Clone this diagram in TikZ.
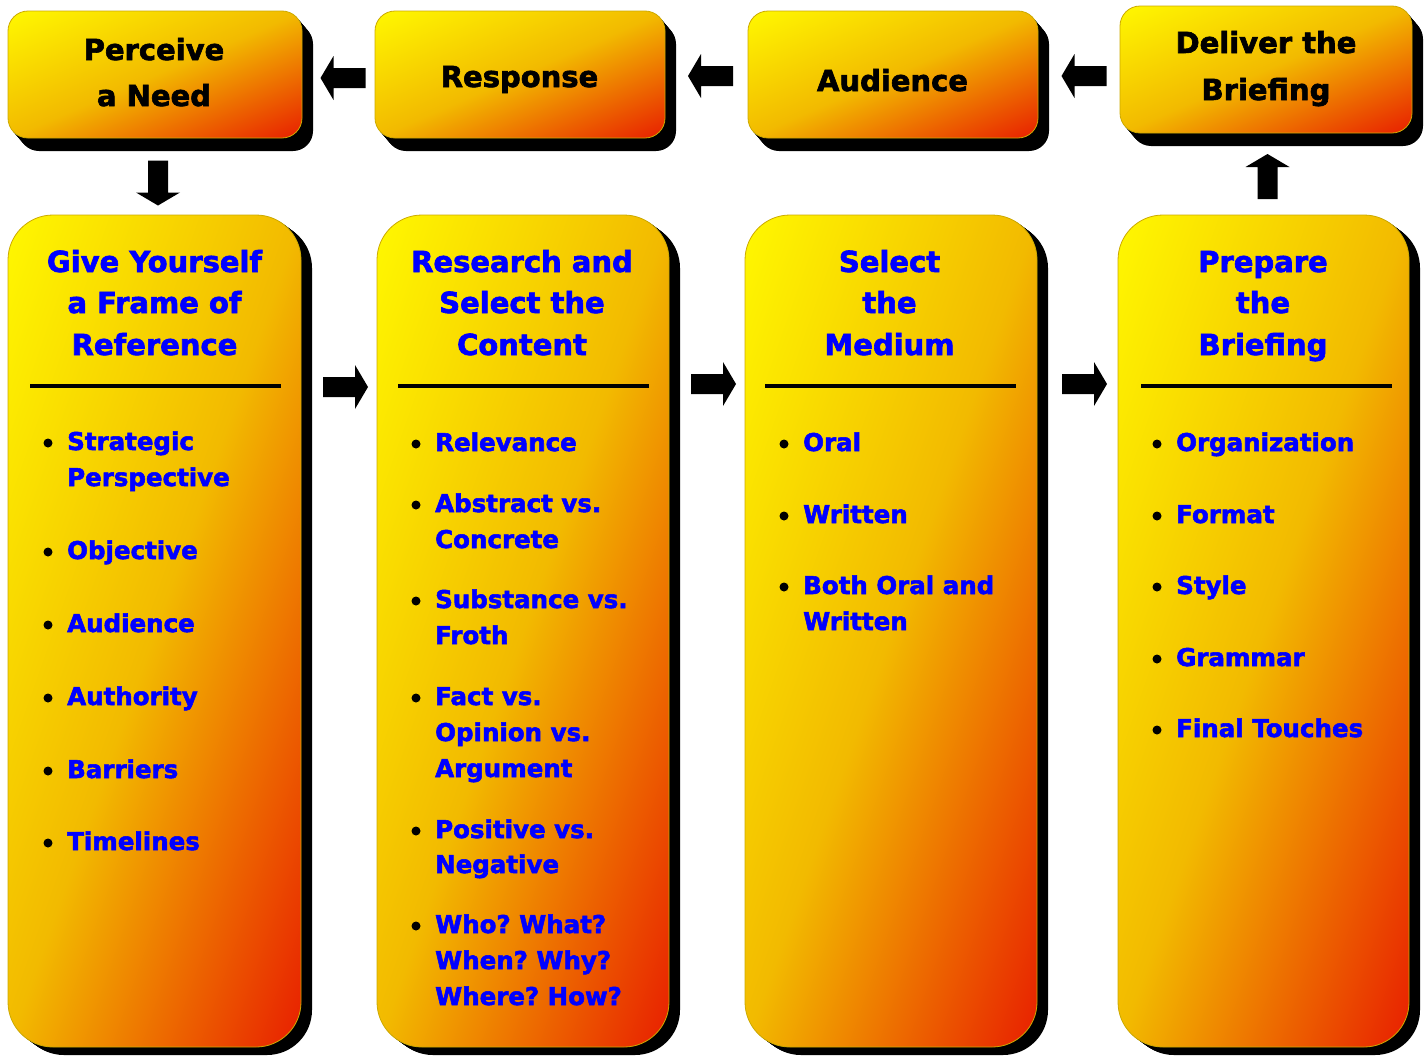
\documentclass[tikz,border=0pt]{standalone}
\usepackage{fontspec}
\newfontfamily\heavy{DejaVu Sans}[FakeBold=2.2]
\usetikzlibrary{fit}

\definecolor{sunyellow}{RGB}{255,248,0}
\definecolor{sunmid}{RGB}{242,186,0}
\definecolor{sunred}{RGB}{232,30,0}
\definecolor{rimgold}{RGB}{205,170,0}
\definecolor{itemblue}{RGB}{0,0,255}

\tikzset{
  panelbody/.style={inner sep=0pt, draw=rimgold, line width=0.8pt},
  boxtext/.style={anchor=base, inner sep=0pt, text=black,
    font=\heavy\bfseries\fontsize{29}{34}\selectfont},
  title/.style={anchor=base, inner sep=0pt, text=itemblue,
    font=\heavy\bfseries\fontsize{29}{35}\selectfont},
  itemtext/.style={anchor=base west, inner sep=0pt, text=itemblue,
    font=\heavy\bfseries\fontsize{24.5}{28}\selectfont},
  dot/.style={circle, fill=black, inner sep=0pt, minimum size=9pt},
  rule/.style={line width=4pt, black},
  barrow/.pic={\fill[black] (-22.5,-10) -- (9.5,-10) -- (9.5,-22) -- (22.5,0)
    -- (9.5,22) -- (9.5,10) -- (-22.5,10) -- cycle;}
}

% panel: name, x1, y1, x2, y2, corner radius, shadow dx, shadow dy
% extruded black shadow, then a gradient running from yellow (top left)
% through amber (along the other diagonal) to red (bottom right)
\newcommand\panel[8]{%
  \foreach \t in {1,...,12}{%
    \fill[black, rounded corners=#6pt, shift={(#7*\t/12,#8*\t/12)}] (#2,#3) rectangle (#4,#5);}
  \pgfmathsetmacro\pcx{(#2+#4)/2}\pgfmathsetmacro\pcy{(#3+#5)/2}%
  \pgfmathsetmacro\pha{(#4-#2)/2}\pgfmathsetmacro\phb{(#5-#3)/2}%
  \begin{scope}
    \clip[rounded corners=#6pt] (#2,#3) rectangle (#4,#5);
    \begin{scope}[transform canvas={cm={\pha,\phb,-\pha,\phb,(\pcx,\pcy)}}]
      \shade[top color=sunyellow, bottom color=sunred, middle color=sunmid] (-2,-1) rectangle (2,1);
    \end{scope}
  \end{scope}
  \node[panelbody, rounded corners=#6pt, fit={(#2,#3)(#4,#5)}] (#1) {};
}

\begin{document}
\frenchspacing
\begin{tikzpicture}[x=1pt,y=-1pt]
\fill[white] (0,0) rectangle (1426,1055);
\useasboundingbox (0,0) rectangle (1426,1055);

% top row of steps
\panel{need}{8}{11}{302}{138}{20}{11}{13}
\panel{resp}{375}{11}{665}{138}{20}{11}{13}
\panel{aud}{748}{11}{1038}{138}{20}{11}{13}
\panel{deliver}{1120}{6}{1412}{133}{20}{11}{13}

\node[boxtext] (need-t1) at (154,60) {Perceive};
\node[boxtext] (need-t2) at (154,106) {a Need};
\node[boxtext] (resp-t1) at (519.5,87) {Response};
\node[boxtext] (aud-t1) at (892.5,91) {Audience};
\node[boxtext] (deliver-t1) at (1266,53) {Deliver the};
\node[boxtext] (deliver-t2) at (1266,100) {Briefing};

% columns
\panel{frame}{8}{215}{301}{1047}{45}{11}{8}
\panel{content}{377}{215}{669}{1047}{45}{11}{8}
\panel{medium}{745}{215}{1037}{1047}{45}{11}{8}
\panel{prepare}{1118}{215}{1409}{1047}{45}{11}{8}

% column headings
\foreach \txt/\yy [count=\k] in {Give Yourself/272, a Frame of/313, Reference/355}
  \node[title] (frame-t\k) at (154.5,\yy) {\txt};
\foreach \txt/\yy [count=\k] in {Research and/272, Select the/313, Content/355}
  \node[title] (content-t\k) at (522,\yy) {\txt};
\foreach \txt/\yy [count=\k] in {Select/272, the/313, Medium/355}
  \node[title] (medium-t\k) at (889.5,\yy) {\txt};
\foreach \txt/\yy [count=\k] in {Prepare/272, the/313, Briefing/355}
  \node[title] (prepare-t\k) at (1263,\yy) {\txt};

% heading rules
\draw[rule] (30,386) -- (281,386);
\draw[rule] (398,386) -- (649,386);
\draw[rule] (765,386) -- (1016,386);
\draw[rule] (1141,386) -- (1392,386);

% bulleted items
\foreach \txt/\yy/\b [count=\k] in {Strategic/450/1, Perspective/486/0, Objective/559/1,
    Audience/632/1, Authority/705/1, Barriers/778/1, Timelines/850/1}{
  \node[itemtext] (frame-i\k) at (67,\yy) {\txt};
  \ifnum\b=1 \node[dot] (frame-d\k) at (48,\yy-7) {};\fi}
\foreach \txt/\yy/\b [count=\k] in {Relevance/451/1, Abstract vs./512/1, Concrete/548/0,
    Substance vs./608/1, Froth/644/0, Fact vs./705/1, Opinion vs./741/0, Argument/777/0,
    Positive vs./838/1, Negative/873/0, Who? What?/933/1, When? Why?/969/0, Where? How?/1005/0}{
  \node[itemtext] (content-i\k) at (435,\yy) {\txt};
  \ifnum\b=1 \node[dot] (content-d\k) at (416,\yy-7) {};\fi}
\foreach \txt/\yy/\b [count=\k] in {Oral/451/1, Written/523/1, Both Oral and/594/1, Written/630/0}{
  \node[itemtext] (medium-i\k) at (803,\yy) {\txt};
  \ifnum\b=1 \node[dot] (medium-d\k) at (784,\yy-7) {};\fi}
\foreach \txt/\yy/\b [count=\k] in {Organization/451/1, Format/523/1, Style/594/1,
    Grammar/666/1, Final Touches/737/1}{
  \node[itemtext] (prepare-i\k) at (1176,\yy) {\txt};
  \ifnum\b=1 \node[dot] (prepare-d\k) at (1157,\yy-7) {};\fi}

% block arrows between the steps
\pic[rotate=180] (back1) at (343,78) {barrow};
\pic[rotate=180] (back2) at (710.5,76) {barrow};
\pic[rotate=180] (back3) at (1084,76) {barrow};
\pic[rotate=-90] (down1) at (158,183) {barrow};
\pic (fwd1) at (345.5,387) {barrow};
\pic (fwd2) at (713.5,384) {barrow};
\pic (fwd3) at (1084.5,384) {barrow};
\pic[rotate=90] (up1) at (1267.5,176.5) {barrow};
\end{tikzpicture}
\end{document}
